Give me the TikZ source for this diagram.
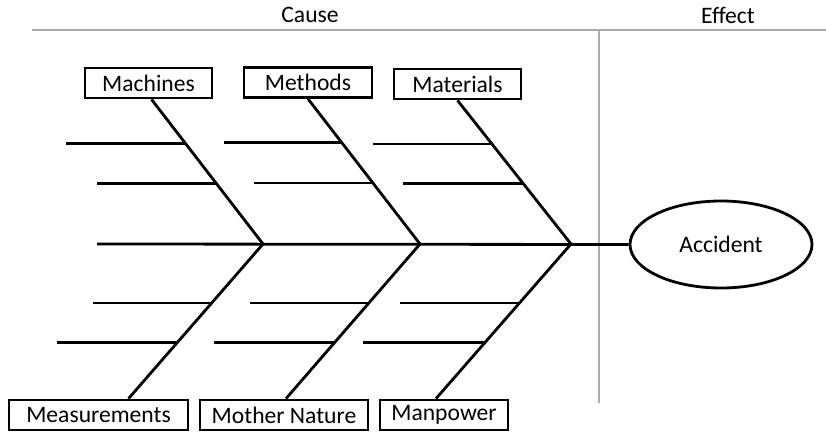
\documentclass[tikz,border=0pt]{standalone}
\usepackage{fontspec}
\setmainfont{Carlito}
\usetikzlibrary{calc,shapes.geometric}
\begin{document}
\begin{tikzpicture}[x=1pt,y=-1pt,
  bone/.style={line width=2.8pt,black},
  guide/.style={line width=2.4pt,color=gray!65},
  label/.style={font=\fontsize{23.6}{28}\selectfont},
  catbox/.style={draw,line width=2.8pt,minimum height=30pt,inner sep=0pt,label,fill=white},
]
\useasboundingbox (0,0) rectangle (826,435);
% guides
\coordinate (gl) at (32,30);
\coordinate (gr) at (826,30);
\coordinate (vt) at (599,30);
\coordinate (vb) at (599,403);
\draw[guide] (gl) -- (gr);
\draw[guide] (vt) -- (vb);
\node[label] (cause) at (310,15) {Cause};
\node[label] (effect) at (728,15) {Effect};
% category boxes
\node[catbox,minimum width=127pt] (mach) at (148.5,83) {Machines};
\node[catbox,minimum width=128pt] (meth) at (308,82.5) {Methods};
\node[catbox,minimum width=127pt] (mat) at (457.5,84) {Materials};
\node[catbox,minimum width=179pt] (meas) at (98.5,415) {Measurements};
\node[catbox,minimum width=168pt] (moth) at (284,415) {Mother Nature};
\node[catbox,minimum width=128pt] (man) at (444,415) {Manpower};
% effect
\node[draw,ellipse,line width=2.8pt,minimum width=182pt,minimum height=87pt,label] (acc) at (721,244.5) {Accident};
% spine
\coordinate (tail) at (97,244);
\coordinate (v1) at (263,244);
\coordinate (v2) at (420,244);
\coordinate (v3) at (571,244);
\draw[bone] (tail) -- (acc.west);
% diagonals
\coordinate (a1) at ($(mach.south)+(3,0)$);
\coordinate (a2) at (meth.south);
\coordinate (a3) at (mat.south);
\coordinate (b1) at ($(meas.north)+(30,0)$);
\coordinate (b2) at ($(moth.north)+(2,0)$);
\coordinate (b3) at ($(man.north)+(-8,0)$);
\draw[bone] (a1) -- (v1) -- (b1);
\draw[bone] (a2) -- (v2) -- (b2);
\draw[bone] (a3) -- (v3) -- (b3);
% ribs top
\foreach \a/\v/\xa/\xb in {a1/v1/66/97, a2/v2/224/254, a3/v3/373/403}{
  \coordinate (p) at ($(\a)!0.303!(\v)$);
  \coordinate (q) at ($(\a)!0.579!(\v)$);
  \draw[bone] (p) -- (\xa,0 |- p);
  \draw[bone] (q) -- (\xb,0 |- q);
}
% ribs bottom
\foreach \b/\v/\xa/\xb in {b1/v1/93/57, b2/v2/250/214, b3/v3/400/363}{
  \coordinate (p) at ($(\b)!0.619!(\v)$);
  \coordinate (q) at ($(\b)!0.361!(\v)$);
  \draw[bone] (p) -- (\xa,0 |- p);
  \draw[bone] (q) -- (\xb,0 |- q);
}
\end{tikzpicture}
\end{document}
